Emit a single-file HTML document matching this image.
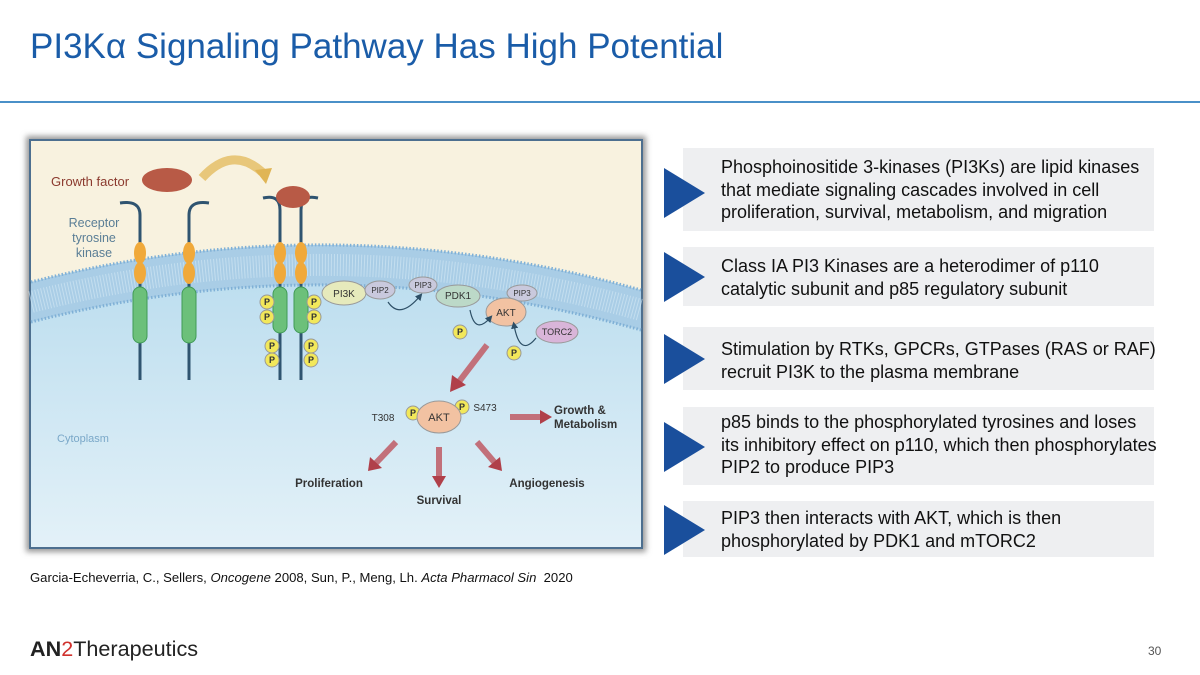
<!DOCTYPE html>
<html><head><meta charset="utf-8"><style>
body{margin:0;width:1200px;height:675px;background:#fff;position:relative;overflow:hidden;font-family:"Liberation Sans",sans-serif}
.t{position:absolute;left:30px;top:27px;font-size:35px;color:#1a5ca8}
.hr{position:absolute;left:0;top:101px;width:1200px;height:2px;background:#4a90c8}
.box{position:absolute;left:683px;width:471px;background:#eeeff1}
.box div{position:absolute;left:38px;font-size:18px;line-height:22.5px;color:#111;white-space:nowrap}
.tri{position:absolute;left:664px;width:0;height:0;border-top:25px solid transparent;border-bottom:25px solid transparent;border-left:41px solid #1a4f9c}
.ref{position:absolute;left:30px;top:570px;font-size:13.1px;color:#111}
.logo{position:absolute;left:30px;top:636px;font-size:21.6px;color:#222}
.pg{position:absolute;left:1148px;top:644px;font-size:12px;color:#555}
</style></head><body>
<div class="t">PI3Kα Signaling Pathway Has High Potential</div>
<div class="hr"></div>
<svg width="1200" height="675" style="position:absolute;left:0;top:0">
<defs>
<linearGradient id="cy" x1="0" y1="0" x2="0" y2="1"><stop offset="0" stop-color="#b9dcee"/><stop offset="1" stop-color="#e3f1f8"/></linearGradient>
<filter id="sh"><feGaussianBlur stdDeviation="3"/></filter>
<marker id="ar" markerWidth="6" markerHeight="6" refX="3" refY="3" orient="auto"><path d="M0,0L6,3L0,6z" fill="#2d4f66"/></marker>
</defs>
<rect x="26" y="136" width="620" height="416" fill="#999" filter="url(#sh)"/>
<rect x="30" y="140" width="612" height="408" fill="#f8f2df" stroke="#4d6f8f" stroke-width="2"/>
<path d="M31,300 Q335,204 641,308 L641,547 L31,547Z" fill="url(#cy)"/>
<path d="M31,282 Q335,204 641,290 L641,330 Q335,244 31,322Z" fill="#a9cde6"/>
<path d="M31,282 Q335,204 641,290" fill="none" stroke="#7fb0d6" stroke-width="3" stroke-dasharray="1.5 2"/>
<path d="M31,322 Q335,244 641,330" fill="none" stroke="#7fb0d6" stroke-width="3" stroke-dasharray="1.5 2"/>
<path d="M31,302 Q335,224 641,310" fill="none" stroke="#d6e9f5" stroke-width="22" stroke-opacity=".6" stroke-dasharray="1 2"/>
<text x="51" y="186" font-size="13" fill="#8b3a2e">Growth factor</text>
<ellipse cx="167" cy="180" rx="25" ry="12" fill="#b85a46"/>
<path d="M202,178 Q232,145 262,172" fill="none" stroke="#e8c77a" stroke-width="9"/>
<path d="M255,170 L272,168 L266,184Z" fill="#e0b555"/>
<g font-size="12.5" fill="#5a7e96" text-anchor="middle"><text x="94" y="227">Receptor</text><text x="94" y="242">tyrosine</text><text x="94" y="257">kinase</text></g>
<g stroke="#2f5470" stroke-width="3" fill="none">
<path d="M120,203 Q140,200 140,215 L140,380"/><path d="M209,203 Q189,200 189,215 L189,380"/>
<path d="M263,198 Q280,194 280,210 L280,380"/><path d="M318,198 Q301,194 301,210 L301,380"/>
</g>
<ellipse cx="293" cy="197" rx="17" ry="11" fill="#b85a46"/>
<g fill="#f0a93a"><ellipse cx="140" cy="253" rx="6" ry="11"/><ellipse cx="140" cy="273" rx="6" ry="11"/><ellipse cx="189" cy="253" rx="6" ry="11"/><ellipse cx="189" cy="273" rx="6" ry="11"/><ellipse cx="280" cy="253" rx="6" ry="11"/><ellipse cx="280" cy="273" rx="6" ry="11"/><ellipse cx="301" cy="253" rx="6" ry="11"/><ellipse cx="301" cy="273" rx="6" ry="11"/></g>
<g fill="#6cc07a" stroke="#3f9a55"><rect x="133" y="287" width="14" height="56" rx="7"/><rect x="182" y="287" width="14" height="56" rx="7"/><rect x="273" y="287" width="14" height="46" rx="7"/><rect x="294" y="287" width="14" height="46" rx="7"/></g>
<g fill="#f2e85a" stroke="#999" stroke-width="1">
<circle cx="267" cy="302" r="7"/><circle cx="267" cy="317" r="7"/><circle cx="272" cy="346" r="7"/><circle cx="272" cy="360" r="7"/>
<circle cx="314" cy="302" r="7"/><circle cx="314" cy="317" r="7"/><circle cx="311" cy="346" r="7"/><circle cx="311" cy="360" r="7"/>
<circle cx="460" cy="332" r="7"/><circle cx="514" cy="353" r="7"/><circle cx="413" cy="413" r="7"/><circle cx="462" cy="407" r="7"/></g>
<g font-size="9" font-weight="bold" fill="#333" text-anchor="middle">
<text x="267" y="305">P</text><text x="267" y="320">P</text><text x="272" y="349">P</text><text x="272" y="363">P</text>
<text x="314" y="305">P</text><text x="314" y="320">P</text><text x="311" y="349">P</text><text x="311" y="363">P</text>
<text x="460" y="335">P</text><text x="514" y="356">P</text><text x="413" y="416">P</text><text x="462" y="410">P</text></g>
<g stroke="#999" stroke-width="1">
<ellipse cx="344" cy="293" rx="22" ry="12" fill="#e6eabc"/><ellipse cx="380" cy="290" rx="15" ry="9" fill="#c9c9dd"/>
<ellipse cx="423" cy="285" rx="14" ry="8" fill="#c9c9dd"/><ellipse cx="458" cy="296" rx="22" ry="11" fill="#bcd9c8"/>
<ellipse cx="522" cy="293" rx="15" ry="8" fill="#c9c9dd"/><ellipse cx="506" cy="312" rx="20" ry="14" fill="#f2c2a2"/>
<ellipse cx="557" cy="332" rx="21" ry="11" fill="#d9b5d9"/><ellipse cx="439" cy="417" rx="22" ry="16" fill="#f2c2a2"/></g>
<g font-size="10" fill="#333" text-anchor="middle">
<text x="344" y="297">PI3K</text><text x="380" y="293" font-size="8">PIP2</text><text x="423" y="288" font-size="8">PIP3</text>
<text x="458" y="299">PDK1</text><text x="522" y="296" font-size="8">PIP3</text><text x="506" y="316">AKT</text>
<text x="557" y="335" font-size="9">TORC2</text><text x="439" y="421" font-size="11">AKT</text>
<text x="383" y="421" font-size="10">T308</text><text x="485" y="411" font-size="10">S473</text></g>
<g stroke="#2d4f66" stroke-width="1.2" fill="none" marker-end="url(#ar)">
<path d="M388,302 Q400,320 420,296"/><path d="M470,310 Q475,335 490,318"/><path d="M536,338 Q520,358 514,325"/></g>
<g stroke="#c2707a" stroke-width="6" fill="none">
<line x1="487" y1="345" x2="458" y2="383"/><line x1="510" y1="417" x2="542" y2="417"/>
<line x1="396" y1="442" x2="376" y2="463"/><line x1="439" y1="447" x2="439" y2="478"/><line x1="477" y1="442" x2="495" y2="463"/></g>
<g fill="#b0404a"><path d="M450,392 L452,375 L466,385Z"/><path d="M552,417 L540,410 L540,424Z"/><path d="M368,471 L370,457 L382,468Z"/><path d="M439,488 L432,476 L446,476Z"/><path d="M502,471 L488,467 L500,457Z"/></g>
<g font-size="11.5" font-weight="bold" fill="#333"><text x="554" y="414">Growth &amp;</text><text x="554" y="428">Metabolism</text>
<text x="329" y="487" text-anchor="middle">Proliferation</text><text x="439" y="504" text-anchor="middle">Survival</text><text x="547" y="487" text-anchor="middle">Angiogenesis</text></g>
<text x="57" y="442" font-size="11" fill="#7aa8c8">Cytoplasm</text>
</svg>
<div class="box" style="top:148px;height:83px"><div style="top:8px">Phosphoinositide 3-kinases (PI3Ks) are lipid kinases<br>that mediate signaling cascades involved in cell<br>proliferation, survival, metabolism, and migration</div></div>
<div class="tri" style="top:168px"></div>
<div class="box" style="top:247px;height:59px"><div style="top:8px">Class IA PI3 Kinases are a heterodimer of p110<br>catalytic subunit and p85 regulatory subunit</div></div>
<div class="tri" style="top:252px"></div>
<div class="box" style="top:327px;height:63px"><div style="top:11px">Stimulation by RTKs, GPCRs, GTPases (RAS or RAF)<br>recruit PI3K to the plasma membrane</div></div>
<div class="tri" style="top:334px"></div>
<div class="box" style="top:407px;height:78px"><div style="top:4px">p85 binds to the phosphorylated tyrosines and loses<br>its inhibitory effect on p110, which then phosphorylates<br>PIP2 to produce PIP3</div></div>
<div class="tri" style="top:422px"></div>
<div class="box" style="top:501px;height:56px"><div style="top:6px">PIP3 then interacts with AKT, which is then<br>phosphorylated by PDK1 and mTORC2</div></div>
<div class="tri" style="top:505px"></div>
<div class="ref">Garcia-Echeverria, C., Sellers, <i>Oncogene</i> 2008, Sun, P., Meng, Lh. <i>Acta Pharmacol Sin</i>&nbsp; 2020</div>
<div class="logo"><b>AN</b><span style="color:#d0312d">2</span>Therapeutics</div>
<div class="pg">30</div>
</body></html>
